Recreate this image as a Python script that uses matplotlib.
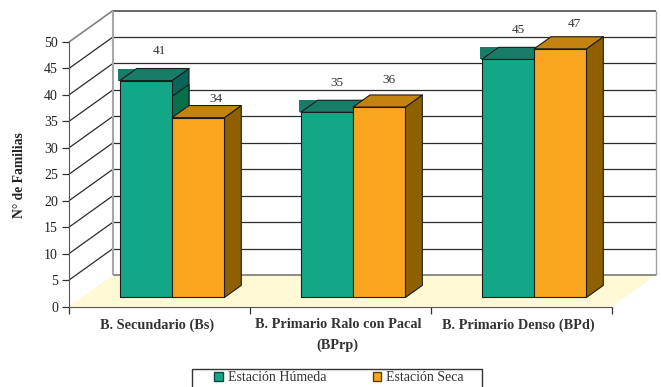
import matplotlib
matplotlib.use("Agg")
from matplotlib import pyplot as plt
from matplotlib.patches import Polygon, Patch, Rectangle

plt.rcParams['font.family'] = ['Liberation Serif', 'DejaVu Serif']

categorias = ["B. Secundario (Bs)", "B. Primario Ralo con Pacal\n(BPrp)", "B. Primario Denso (BPd)"]
humeda = [41, 35, 45]
seca = [34, 36, 47]
series_nombres = ["Estación Húmeda", "Estación Seca"]
y_ticks = list(range(0, 55, 5))

W, H = 661, 387
fig = plt.figure(figsize=(W / 100, H / 100), dpi=100)
ax = fig.add_axes([69 / W, 1 - 306.5 / H, 543 / W, 264.5 / H])
ax.set_xlim(0, 3)
ax.set_ylim(0, 50)

# depth of the 3d box, in data units
DX = 44 / 181
DY = 31.5 / 5.29


def pt(x, v, d=0):
    return (x + d * DX, v + d * DY)


def face(points, color, edge='none', lw=0.8, z=2):
    ax.add_patch(Polygon(points, closed=True, facecolor=color, edgecolor=edge, lw=lw,
                         zorder=z, clip_on=False, joinstyle='round'))


def line(a, b, color, lw=1.0, z=1):
    ax.plot([a[0], b[0]], [a[1], b[1]], color=color, lw=lw, zorder=z, clip_on=False,
            solid_capstyle='butt')


# floor
face([pt(0, 0), pt(3, 0), pt(3, 0, 1), pt(0, 0, 1)], '#FFF9D6', z=0.5)

# walls and grid
for v in y_ticks:
    if v == 0:
        line(pt(0, 0, 1), pt(3, 0, 1), '#8c8c8c', 1.4)
    elif v == 50:
        line(pt(0, v), pt(0, v, 1), '#808080', 1.2)
        line(pt(0, v, 1), pt(3, v, 1), '#666666', 1.4)
    else:
        line(pt(0, v), pt(0, v, 1), '#2b2b2b', 0.9)
        line(pt(0, v, 1), pt(3, v, 1), '#2b2b2b', 0.9)
line(pt(0, 0, 1), pt(0, 50, 1), '#a8a8a8', 1.5)
line(pt(3, 0, 1), pt(3, 50, 1), '#a0a0a0', 1.0)

# bars
ancho = 0.289
D0, D1 = 0.286, 0.67
EDGE = '#1c1c1c'
PROF_X = (D1 - D0) * DX
PROF_Y = (D1 - D0) * DY


def bar3d(x, v, front, top, side, z, top_band=False, side_low=None):
    if top_band:
        # dark band behind the top face
        face([pt(x - 0.008, v, D0), pt(x + ancho + PROF_X, v, D0),
              pt(x + ancho + PROF_X, v + PROF_Y, D0), pt(x - 0.008, v + PROF_Y, D0)], top, z=z)
    face([pt(x + ancho, 0, D0), pt(x + ancho, 0, D1), pt(x + ancho, v, D1), pt(x + ancho, v, D0)],
         side, EDGE, z=z)
    if side_low is not None:
        # lower part of the side face is a lighter green
        face([pt(x + ancho, 0, D0), pt(x + ancho, 0, D1), pt(x + ancho, v - 3, D1), pt(x + ancho, v - 3, D0)],
             side_low, EDGE, z=z)
    face([pt(x, v, D0), pt(x + ancho, v, D0), pt(x + ancho, v, D1), pt(x, v, D1)], top, EDGE, z=z)
    face([pt(x, 0, D0), pt(x + ancho, 0, D0), pt(x + ancho, v, D0), pt(x, v, D0)], front, EDGE, z=z)


for i in range(len(categorias)):
    x0 = i + 0.5 - ancho
    bar3d(x0, humeda[i], '#12A887', '#187C68', '#0A6458', 3 + i * 0.1, top_band=True, side_low='#06704A')
    bar3d(x0 + ancho, seca[i], '#F8A61E', '#C4830E', '#8E6000', 4 + i * 0.1)

# value labels, offsets in pixels from the front top edge
lado_h = [14, 10, 10]
lado_s = [18, 10, 14]
subida_h = [30, 29, 29]
subida_s = [19, 27, 25]
for i in range(len(categorias)):
    for vals, off, subida, lado in ((humeda, -ancho / 2, subida_h, lado_h), (seca, ancho / 2, subida_s, lado_s)):
        x, y = pt(i + 0.5 + off, vals[i], D0)
        ax.annotate(str(vals[i]), (x, y), xytext=(lado[i] * 0.72, subida[i] * 0.72), textcoords='offset points',
                    ha='center', va='center', fontsize=9.5, color='#333333', zorder=6,
                    annotation_clip=False)

# axes
for s in ['top', 'right']:
    ax.spines[s].set_visible(False)
ax.patch.set_visible(False)
ax.spines['left'].set_color('#555555')
ax.spines['bottom'].set_color('#555555')
ax.set_yticks(y_ticks)
ax.tick_params(axis='y', length=5, width=0.9, color='#333333', labelsize=10, pad=3, labelcolor='#222222')
ax.set_xticks(range(0, 4))
ax.set_xticklabels([])
ax.tick_params(axis='x', which='major', length=5, direction='out', width=0.9, color='#333333')
ax.set_xticks([0.485, 1.485, 2.485], minor=True)
ax.set_xticklabels(categorias, minor=True, fontsize=10.3, fontweight='bold', color='#333333', linespacing=1.72)
ax.tick_params(axis='x', which='minor', length=0, pad=8.5)
fig.text(20 / W, 1 - 175 / H, "N° de Familias", rotation=90, ha='center', va='center',
         fontsize=9.8, fontweight='bold', color='#222222')

# legend box runs past the lower border of the figure
fig.add_artist(Rectangle((192 / W, -0.02), 290 / W, 1 - 368.7 / H + 0.02, transform=fig.transFigure,
                         facecolor='white', edgecolor='#333333', lw=1.0))
handles = [Patch(facecolor='#12A887', edgecolor='#0A4A40', label=series_nombres[0]),
           Patch(facecolor='#F8A61E', edgecolor='#5a4000', label=series_nombres[1])]
leg = fig.legend(handles=handles, loc='lower left', bbox_to_anchor=(213 / W, 0.004), ncol=2,
                 fontsize=10, frameon=False, borderaxespad=0, borderpad=0.1, handlelength=0.6,
                 handleheight=0.6, handletextpad=0.4, columnspacing=3.3, labelcolor='#333333')

fig.savefig("out.png", dpi=100)
